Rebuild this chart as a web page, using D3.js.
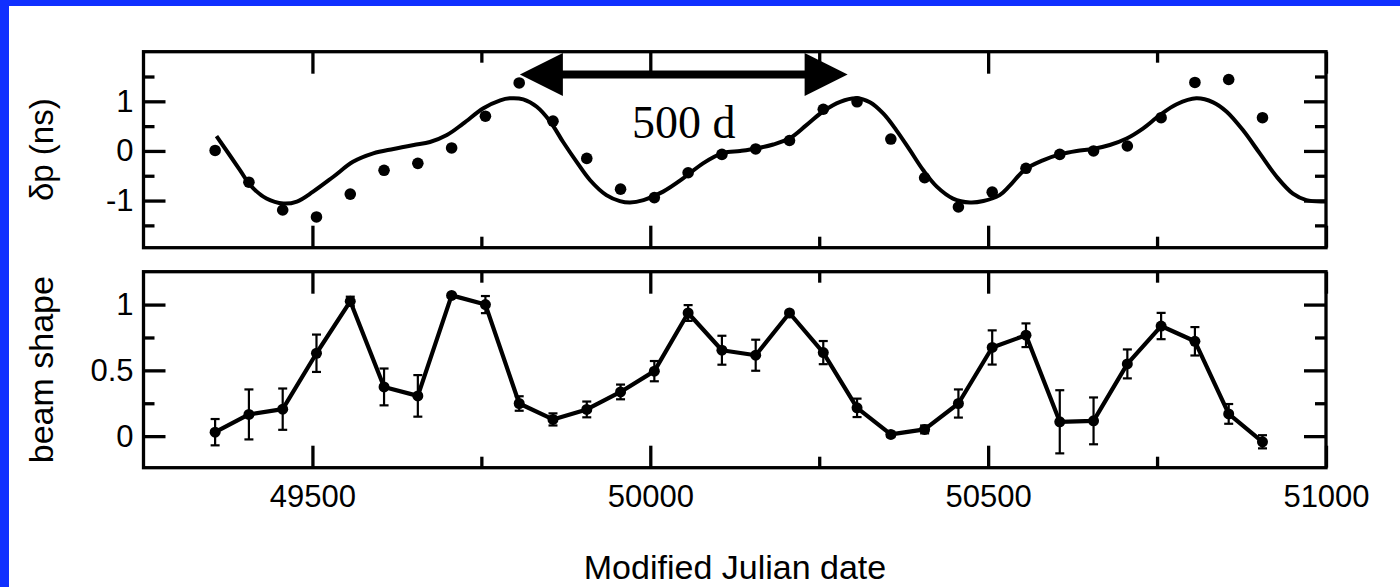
<!DOCTYPE html>
<html><head><meta charset="utf-8">
<script src="https://cdn.jsdelivr.net/npm/d3@7"></script>
<style>body{margin:0;background:#fff}svg{display:block}</style>
</head><body><svg id="c" width="1400" height="587"></svg>
<script>
// ---- data ----
const obsDays = [49356,49406,49456,49506,49556,49606,49656,49706,49756,49806,49856,49906,49956,50006,50056,50106,
                 50156,50206,50256,50306,50356,50406,50456,50506,50556,50606,50656,50706,50756,50806,50856,50906];
const delayVals = [0.01,-0.63,-1.19,-1.33,-0.87,-0.39,-0.25,0.06,0.70,1.37,0.60,-0.15,-0.77,-0.94,-0.44,-0.07,
                   0.04,0.21,0.84,0.99,0.24,-0.54,-1.13,-0.83,-0.35,-0.07,0.00,0.10,0.67,1.38,1.44,0.67];
const fitDays = [49358,49393,49408,49432,49457,49477,49501,49531,49560,49590,49620,49650,49674,49699,49723,49753,
                 49778,49792,49812,49832,49852,49871,49891,49911,49935,49955,49970,49990,50019,50049,50078,50108,
                 50133,50157,50182,50207,50231,50256,50281,50305,50325,50345,50364,50384,50404,50424,50448,50473,
                 50493,50517,50532,50554,50581,50606,50631,50655,50680,50705,50729,50754,50779,50808,50833,50853,
                 50877,50902,50927,50951,50971,50996,51000];
const fitVals = [0.30,-0.39,-0.69,-0.96,-1.06,-1.02,-0.82,-0.52,-0.22,-0.05,0.04,0.12,0.18,0.32,0.55,0.86,
                 1.02,1.06,1.04,0.89,0.59,0.18,-0.22,-0.59,-0.89,-1.01,-1.04,-0.99,-0.82,-0.55,-0.25,-0.04,
                 0.00,0.05,0.13,0.26,0.52,0.80,0.99,1.06,0.98,0.75,0.42,0.02,-0.39,-0.72,-0.96,-1.04,
                 -1.01,-0.89,-0.70,-0.38,-0.19,-0.07,0.00,0.04,0.12,0.25,0.45,0.72,0.94,1.06,0.98,0.79,
                 0.42,-0.05,-0.52,-0.86,-0.99,-1.02,-1.02];
const beamVals = [0.03,0.165,0.205,0.63,1.025,0.374,0.306,1.07,1.0,0.248,0.127,0.203,0.336,0.494,0.936,0.653,
                  0.615,0.936,0.635,0.215,0.013,0.051,0.248,0.674,0.767,0.109,0.116,0.549,0.837,0.721,0.169,-0.043];
const beamErr = [0.10,0.19,0.157,0.142,0.035,0.14,0.158,0.01,0.065,0.055,0.046,0.06,0.056,0.077,0.06,0.11,
                 0.118,0.015,0.088,0.07,0.02,0.03,0.107,0.13,0.09,0.24,0.178,0.11,0.10,0.108,0.075,0.05];
const xMajorTicks = [49500,50000,50500,51000];
const xMinorTicks = [49750,50250,50750];
const xTickLabels = ["49500","50000","50500","51000"];
const yTopMajor = [-1,0,1];
const yTopLabels = ["-1","0","1"];
const yTopMinor = [-1.5,-0.5,0.5,1.5];
const yBotMajor = [0,0.5,1];
const yBotLabels = ["0","0.5","1"];
const yBotMinor = [0.25,0.75];
const arrowDays = [49807,50292];
const arrowLevel = 1.54;
const arrowText = "500 d";

// ---- layout ----
const svg = d3.select('#c');
svg.append('rect').attr('width',1400).attr('height',587).attr('fill','#fff');
svg.append('rect').attr('x',0).attr('y',0).attr('width',9).attr('height',587).attr('fill','#1030ff');
svg.append('rect').attr('x',0).attr('y',0).attr('width',1400).attr('height',6).attr('fill','#1030ff');

const L = 143.5, R = 1326;
const x = d3.scaleLinear().domain([49250,51000]).range([L,R]);
const topP = {t:51.7, b:247.7}, botP = {t:271.7, b:467.7};
const yT = d3.scaleLinear().domain([-1.95,2]).range([topP.b, topP.t]);
const yB = d3.scaleLinear().domain([-0.24,1.25]).range([botP.b, botP.t]);
const sans = '"Liberation Sans", Arial, Helvetica, sans-serif';
const TW = 3.3, MAJ = 22, MIN = 11;

function styleAxis(g){
  g.select('.domain').remove();
  g.selectAll('.tick line').attr('stroke','#000').attr('stroke-width',TW);
  g.selectAll('.tick text').attr('fill','#000').style('font-family',sans).style('font-size','31px');
}
function panel(y, P, yMaj, yMin, yLab, showX){
  const g = svg.append('g');
  g.append('g').attr('transform',`translate(${L},0)`)
    .call(d3.axisLeft(y).tickValues(yMaj).tickSizeInner(-MAJ).tickSizeOuter(0).tickPadding(10)
      .tickFormat((d,i)=>yLab[i])).call(styleAxis);
  g.append('g').attr('transform',`translate(${L},0)`)
    .call(d3.axisLeft(y).tickValues(yMin).tickSizeInner(-MIN).tickSizeOuter(0).tickFormat('')).call(styleAxis);
  g.append('g').attr('transform',`translate(${R},0)`)
    .call(d3.axisRight(y).tickValues(yMaj).tickSizeInner(-MAJ).tickSizeOuter(0).tickFormat('')).call(styleAxis);
  g.append('g').attr('transform',`translate(${R},0)`)
    .call(d3.axisRight(y).tickValues(yMin).tickSizeInner(-MIN).tickSizeOuter(0).tickFormat('')).call(styleAxis);
  g.append('g').attr('transform',`translate(0,${P.t})`)
    .call(d3.axisTop(x).tickValues(xMajorTicks).tickSizeInner(-MAJ).tickSizeOuter(0).tickFormat('')).call(styleAxis);
  g.append('g').attr('transform',`translate(0,${P.t})`)
    .call(d3.axisTop(x).tickValues(xMinorTicks).tickSizeInner(-MIN).tickSizeOuter(0).tickFormat('')).call(styleAxis);
  g.append('g').attr('transform',`translate(0,${P.b})`)
    .call(d3.axisBottom(x).tickValues(xMajorTicks).tickSizeInner(-MAJ).tickSizeOuter(0).tickPadding(17)
      .tickFormat((d,i)=> showX ? xTickLabels[i] : '')).call(styleAxis);
  g.append('g').attr('transform',`translate(0,${P.b})`)
    .call(d3.axisBottom(x).tickValues(xMinorTicks).tickSizeInner(-MIN).tickSizeOuter(0).tickFormat('')).call(styleAxis);
  g.append('rect').attr('x',L).attr('y',P.t).attr('width',R-L).attr('height',P.b-P.t)
    .attr('fill','none').attr('stroke','#000').attr('stroke-width',TW);
}
panel(yT, topP, yTopMajor, yTopMinor, yTopLabels, false);
panel(yB, botP, yBotMajor, yBotMinor, yBotLabels, true);

// ---- top panel marks ----
const fit = fitDays.map((d,i)=>[d,fitVals[i]]);
svg.append('path').datum(fit)
  .attr('d', d3.line().x(d=>x(d[0])).y(d=>yT(d[1])).curve(d3.curveCatmullRom.alpha(0.5)))
  .attr('fill','none').attr('stroke','#000').attr('stroke-width',4).attr('stroke-linecap','butt');
svg.append('g').selectAll('circle').data(obsDays).join('circle')
  .attr('cx',d=>x(d)).attr('cy',(d,i)=>yT(delayVals[i])).attr('r',5.8).attr('fill','#000');

// arrow
const ax0 = x(arrowDays[0]), ax1 = x(arrowDays[1]), ay = yT(arrowLevel);
const hw = 43, hh = 21.5;
svg.append('line').attr('x1',ax0+hw-2).attr('x2',ax1-hw+2).attr('y1',ay).attr('y2',ay)
  .attr('stroke','#000').attr('stroke-width',8);
svg.append('path').attr('d',`M${ax0},${ay}L${ax0+hw},${ay-hh}L${ax0+hw},${ay+hh}Z`).attr('fill','#000');
svg.append('path').attr('d',`M${ax1},${ay}L${ax1-hw},${ay-hh}L${ax1-hw},${ay+hh}Z`).attr('fill','#000');
svg.append('text').attr('x',(ax0+ax1)/2).attr('y',yT(0.27)).attr('text-anchor','middle')
  .style('font-family','"Liberation Serif","Times New Roman",serif').style('font-size','46px').text(arrowText);

// ---- bottom panel marks ----
const beam = obsDays.map((d,i)=>({d, v:beamVals[i], e:beamErr[i]}));
const eb = svg.append('g').attr('stroke','#000').attr('stroke-width',2.2);
beam.forEach(p=>{
  const cx = x(p.d), y1 = yB(p.v+p.e), y2 = yB(p.v-p.e);
  eb.append('line').attr('x1',cx).attr('x2',cx).attr('y1',y1).attr('y2',y2);
  eb.append('line').attr('x1',cx-4.5).attr('x2',cx+4.5).attr('y1',y1).attr('y2',y1);
  eb.append('line').attr('x1',cx-4.5).attr('x2',cx+4.5).attr('y1',y2).attr('y2',y2);
});
svg.append('path').datum(beam)
  .attr('d', d3.line().x(p=>x(p.d)).y(p=>yB(p.v)))
  .attr('fill','none').attr('stroke','#000').attr('stroke-width',4.2).attr('stroke-linejoin','round');
svg.append('g').selectAll('circle').data(beam).join('circle')
  .attr('cx',p=>x(p.d)).attr('cy',p=>yB(p.v)).attr('r',5.5).attr('fill','#000');

// ---- titles ----
svg.append('text').attr('transform',`translate(41,${(topP.t+topP.b)/2}) rotate(-90)`)
  .attr('text-anchor','middle').attr('dy','0.35em').style('font-family',sans).style('font-size','33px').text('δp (ns)');
svg.append('text').attr('transform',`translate(41,${(botP.t+botP.b)/2}) rotate(-90)`)
  .attr('text-anchor','middle').attr('dy','0.35em').style('font-family',sans).style('font-size','34px').text('beam shape');
svg.append('text').attr('x',735).attr('y',579).attr('text-anchor','middle')
  .style('font-family',sans).style('font-size','34px').text('Modified Julian date');
</script></body></html>
